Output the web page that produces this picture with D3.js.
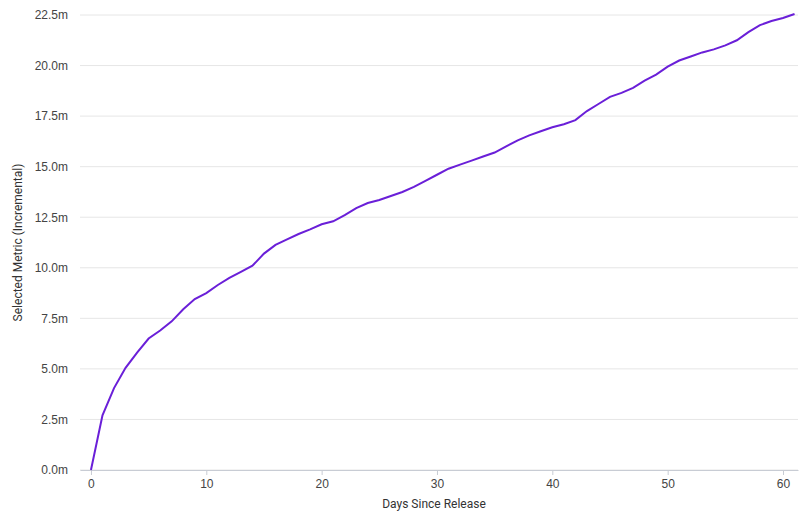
<!DOCTYPE html>
<html lang="en">
<head>
<meta charset="UTF-8">
<title>Selected Metric</title>
<script src="https://cdn.jsdelivr.net/npm/d3@7"></script>
<style>
  body { margin: 0; background: #fff; font-family: Roboto, sans-serif; }
  .tick text { font-size: 12px; fill: #444; }
</style>
</head>
<body>
<div id="chart"></div>
<script>
    // cumulative metric in millions, day 0..61
    var values = [0, 2.7, 4.05, 5.05, 5.8, 6.5, 6.9, 7.35, 7.95, 8.45, 8.75, 9.15, 9.5, 9.8, 10.1,
        10.7, 11.13, 11.4, 11.67, 11.9, 12.15, 12.3, 12.6, 12.95, 13.2, 13.35, 13.55, 13.75, 14.0,
        14.3, 14.6, 14.9, 15.1, 15.3, 15.5, 15.7, 16.0, 16.3, 16.55, 16.75, 16.95, 17.1, 17.3,
        17.75, 18.1, 18.45, 18.65, 18.9, 19.25, 19.55, 19.95, 20.25, 20.45, 20.65, 20.8, 21.0,
        21.25, 21.65, 22.0, 22.2, 22.35, 22.55];
    var days = values.map(function (v, i) { return i; });
    var xTicks = [0, 10, 20, 30, 40, 50, 60];
    var yTicks = [0, 2.5, 5, 7.5, 10, 12.5, 15, 17.5, 20, 22.5];

    var width = 810, height = 526;
    var margin = {top: 15, right: 12, bottom: 56, left: 80};

    var svg = d3.select("#chart").append("svg")
            .attr("width", width)
            .attr("height", height);

    var x = d3.scaleLinear().domain([-0.95, 61.3]).range([margin.left, width - margin.right]);
    var y = d3.scaleLinear().domain([0, 22.5]).range([height - margin.bottom, margin.top]);

    // grid
    svg.append("g").selectAll("line").data(yTicks).enter().append("line")
            .attr("x1", margin.left).attr("x2", width - margin.right)
            .attr("y1", function (d) { return y(d); }).attr("y2", function (d) { return y(d); })
            .attr("stroke", "#e6e6e6");

    var yAxis = svg.append("g")
            .attr("transform", "translate(" + margin.left + ",0)")
            .call(d3.axisLeft(y).tickValues(yTicks).tickSize(0).tickPadding(12)
                    .tickFormat(function (d) { return d.toFixed(1) + "m"; }));
    yAxis.select(".domain").remove();

    var xAxis = svg.append("g")
            .attr("transform", "translate(0," + y(0) + ")")
            .call(d3.axisBottom(x).tickValues(xTicks).tickSize(5).tickPadding(4).tickSizeOuter(0));
    xAxis.select(".domain").attr("stroke", "#c8ccd4");
    xAxis.selectAll(".tick line").attr("stroke", "#c8ccd4");

    svg.append("path")
            .datum(days)
            .attr("fill", "none")
            .attr("stroke", "#6a1fd8")
            .attr("stroke-width", 2)
            .attr("d", d3.line().x(function (d) { return x(d); }).y(function (d) { return y(values[d]); }));

    svg.append("text")
            .attr("x", (margin.left + width - margin.right) / 2 - 5)
            .attr("y", 508)
            .attr("text-anchor", "middle")
            .attr("font-size", 12).attr("fill", "#333")
            .text("Days Since Release");

    svg.append("text")
            .attr("transform", "translate(22," + (y(11.25)) + ") rotate(-90)")
            .attr("text-anchor", "middle")
            .attr("font-size", 12).attr("fill", "#333")
            .text("Selected Metric (Incremental)");
</script>
</body>
</html>
